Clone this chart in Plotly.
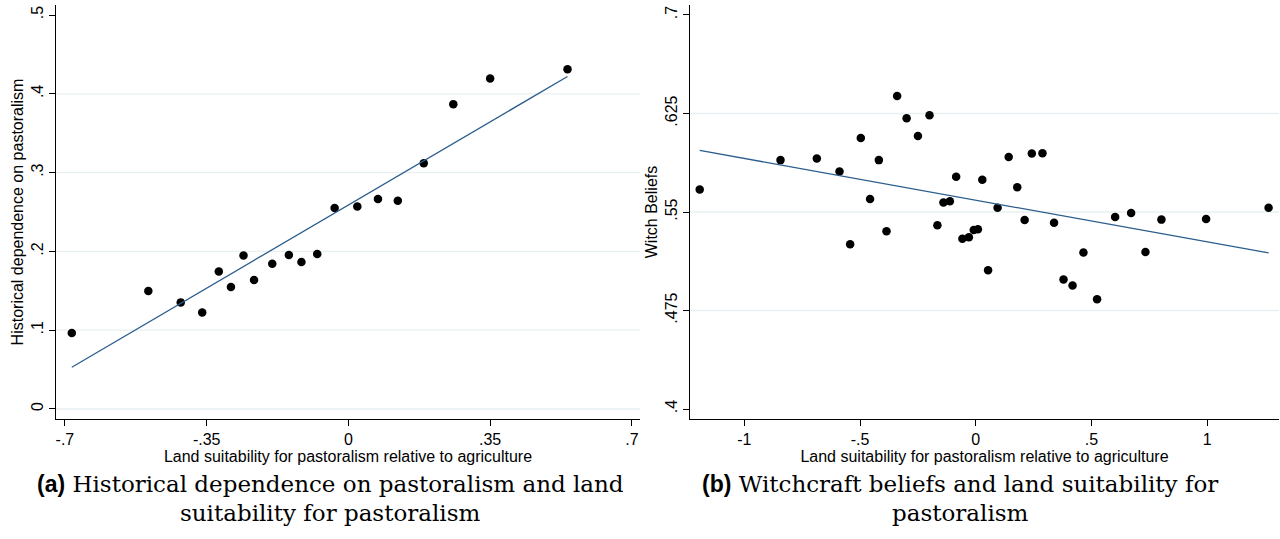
import plotly.graph_objects as go

# panel (a): historical dependence on pastoralism
past_x = [-0.683, -0.494, -0.414, -0.361, -0.320, -0.290, -0.259, -0.233, -0.188, -0.147,
          -0.116, -0.077, -0.034, 0.022, 0.073, 0.122, 0.186, 0.259, 0.350, 0.541]
past_y = [0.0964, 0.1497, 0.1353, 0.1226, 0.1746, 0.1548, 0.1949, 0.1636, 0.1844, 0.1953,
          0.1865, 0.1966, 0.2550, 0.2570, 0.2664, 0.2643, 0.3120, 0.3869, 0.4195, 0.4313]
past_fit_x = [-0.683, 0.541]
past_fit_y = [0.053, 0.422]

# panel (b): witchcraft beliefs
witch_x = [-1.193, -0.844, -0.687, -0.589, -0.497, -0.543, -0.457, -0.419, -0.386, -0.340,
           -0.299, -0.250, -0.200, -0.166, -0.140, -0.112, -0.085, -0.058, -0.030, -0.009,
           0.009, 0.028, 0.053, 0.094, 0.142, 0.179, 0.211, 0.242, 0.288, 0.338,
           0.379, 0.418, 0.465, 0.524, 0.602, 0.671, 0.733, 0.802, 0.995, 1.265]
witch_y = [0.5672, 0.5895, 0.5908, 0.5809, 0.6063, 0.5254, 0.5599, 0.5895, 0.5353, 0.6384,
           0.6214, 0.6078, 0.6237, 0.5399, 0.5573, 0.5581, 0.5769, 0.5297, 0.5307, 0.5363,
           0.5368, 0.5746, 0.5057, 0.5533, 0.5918, 0.5688, 0.5439, 0.5946, 0.5948, 0.5419,
           0.4986, 0.4940, 0.5191, 0.4836, 0.5462, 0.5492, 0.5196, 0.5442, 0.5447, 0.5533]
witch_fit_x = [-1.193, 1.265]
witch_fit_y = [0.5969, 0.5188]

past_ticks = [-0.7, -0.35, 0, 0.35, 0.7]
past_ticktext = ["-.7", "-.35", "0", ".35", ".7"]
past_yticks = [0, 0.1, 0.2, 0.3, 0.4, 0.5]
past_yticktext = ["0", ".1", ".2", ".3", ".4", ".5"]
witch_ticks = [-1, -0.5, 0, 0.5, 1]
witch_ticktext = ["-1", "-.5", "0", ".5", "1"]
witch_yticks = [0.4, 0.475, 0.55, 0.625, 0.7]
witch_yticktext = [".4", ".475", ".55", ".625", ".7"]

xtitle = "Land suitability for pastoralism relative to agriculture"
lab = "<span style='font-family:Liberation Sans'><b>%s</b></span> "
caption_a = [lab % "(a)" + "Historical dependence on pastoralism and land",
             "suitability for pastoralism"]
caption_b = [lab % "(b)" + "Witchcraft beliefs and land suitability for",
             "pastoralism"]

dot = dict(color="black", size=8.5)
fitline = dict(color="#2b5d8c", width=1.3)
grid = "#e9f0f2"
font = dict(family="Liberation Sans, Arial, sans-serif", size=16, color="black")

fig = go.Figure()
fig.add_trace(go.Scatter(x=past_x, y=past_y, mode="markers", marker=dot, xaxis="x", yaxis="y"))
fig.add_trace(go.Scatter(x=past_fit_x, y=past_fit_y, mode="lines", line=fitline, xaxis="x", yaxis="y"))
fig.add_trace(go.Scatter(x=witch_x, y=witch_y, mode="markers", marker=dot, xaxis="x2", yaxis="y2"))
fig.add_trace(go.Scatter(x=witch_fit_x, y=witch_fit_y, mode="lines", line=fitline, xaxis="x2", yaxis="y2"))

# stata-like gridlines (not at the top edge)
for yv in past_yticks[:-1]:
    fig.add_shape(type="line", xref="x domain", yref="y", x0=0, x1=1, y0=yv, y1=yv,
                  line=dict(color=grid, width=1.3), layer="below")
for yv in witch_yticks[1:-1]:
    fig.add_shape(type="line", xref="x2 domain", yref="y2", x0=0, x1=1, y0=yv, y1=yv,
                  line=dict(color=grid, width=1.3), layer="below")

axis = dict(showline=True, linecolor="black", linewidth=1.2, ticks="outside", ticklen=6,
            tickwidth=1.2, tickcolor="black", showgrid=False, zeroline=False, tickfont=font)

fig.update_layout(
    width=1280, height=539, autosize=False,
    margin=dict(l=0, r=0, t=0, b=0),
    paper_bgcolor="white", plot_bgcolor="white",
    showlegend=False, font=font,
    xaxis=dict(axis, domain=[56 / 1280, 640 / 1280], range=[-0.722, 0.72], anchor="y",
               tickvals=past_ticks, ticktext=past_ticktext,
               title=dict(text=xtitle, font=font, standoff=0)),
    yaxis=dict(axis, domain=[1 - 419 / 539, 1 - 5 / 539], range=[-0.0127, 0.5127], anchor="x",
               tickvals=past_yticks, ticktext=past_yticktext, tickangle=-90,
               title=dict(text="Historical dependence on pastoralism", font=font, standoff=0)),
    xaxis2=dict(axis, domain=[690 / 1280, 1279 / 1280], range=[-1.235, 1.31], anchor="y2",
                tickvals=witch_ticks, ticktext=witch_ticktext,
                title=dict(text=xtitle, font=font, standoff=0)),
    yaxis2=dict(axis, domain=[1 - 419 / 539, 1 - 5 / 539], range=[0.3924, 0.7076], anchor="x2",
                tickvals=witch_yticks, ticktext=witch_yticktext, tickangle=-90,
                title=dict(text="Witch Beliefs", font=font, standoff=0)),
)

capfont = dict(family="DejaVu Serif, Liberation Serif, serif", size=23, color="black")
for cx, lines in [(330, caption_a), (960, caption_b)]:
    for cy, line in zip([484, 513], lines):
        fig.add_annotation(text=line, xref="paper", yref="paper", x=cx / 1280, y=1 - cy / 539,
                           xanchor="center", yanchor="middle", showarrow=False, font=capfont)

# drop the default page margin so the figure sits at the window corner
fig.write_html("out.html", config={"displayModeBar": False},
               post_script="document.body.style.margin='0';")
